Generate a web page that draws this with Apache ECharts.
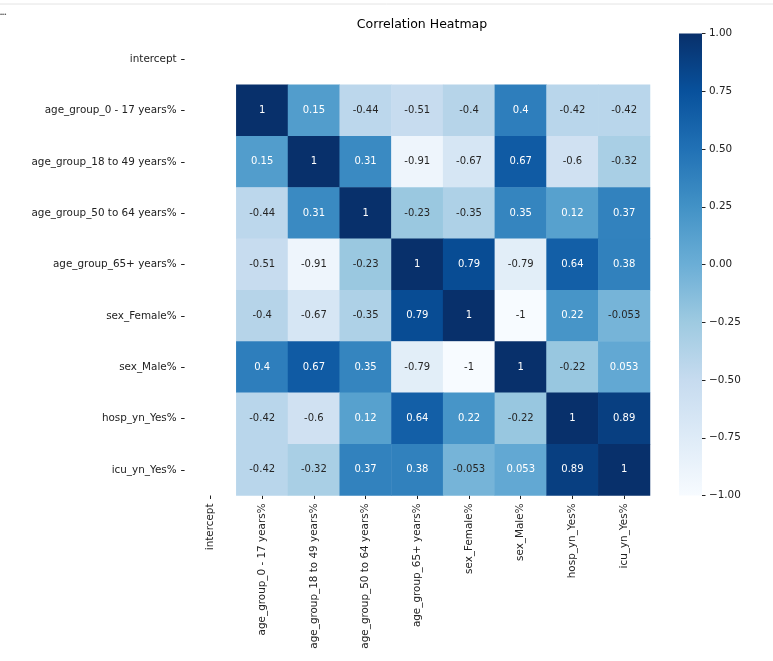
<!DOCTYPE html>
<html>
<head>
<meta charset="utf-8">
<script src="https://cdn.jsdelivr.net/npm/echarts@6/dist/echarts.min.js"></script>
<style>
  html, body { margin: 0; padding: 0; background: #fff; }
  #main { width: 773px; height: 661px; }
</style>
</head>
<body>
<div id="main"></div>
<script>
// variables of the correlation matrix (intercept has no values)
var labels = ['intercept', 'age_group_0 - 17 years%', 'age_group_18 to 49 years%', 'age_group_50 to 64 years%',
  'age_group_65+ years%', 'sex_Female%', 'sex_Male%', 'hosp_yn_Yes%', 'icu_yn_Yes%'];

// rows of the matrix, without the intercept row / column
var rowAge0 = [1, 0.15, -0.44, -0.51, -0.4, 0.4, -0.42, -0.42];
var rowAge18 = [0.15, 1, 0.31, -0.91, -0.67, 0.67, -0.6, -0.32];
var rowAge50 = [-0.44, 0.31, 1, -0.23, -0.35, 0.35, 0.12, 0.37];
var rowAge65 = [-0.51, -0.91, -0.23, 1, 0.79, -0.79, 0.64, 0.38];
var rowFemale = [-0.4, -0.67, -0.35, 0.79, 1, -1, 0.22, -0.053];
var rowMale = [0.4, 0.67, 0.35, -0.79, -1, 1, -0.22, 0.053];
var rowHosp = [-0.42, -0.6, 0.12, 0.64, 0.22, -0.22, 1, 0.89];
var rowIcu = [-0.42, -0.32, 0.37, 0.38, -0.053, 0.053, 0.89, 1];
var matrix = [rowAge0, rowAge18, rowAge50, rowAge65, rowFemale, rowMale, rowHosp, rowIcu];

var cbarTicks = [-1, -0.75, -0.5, -0.25, 0, 0.25, 0.5, 0.75, 1];

// matplotlib "Blues"
var blues = ['#f7fbff', '#deebf7', '#c6dbef', '#9ecae1', '#6baed6', '#4292c6', '#2171b5', '#08519c', '#08306b'];
var font = 'DejaVu Sans';
var ink = '#222';

var cells = [];
matrix.forEach(function (row, i) {
  row.forEach(function (v, j) {
    cells.push({
      value: [j + 1, i + 1, v],
      label: { color: v > -0.05 ? '#ffffff' : '#262626' } // light text on dark cells
    });
  });
});

// hidden axis line, but keep the little tick marks
var hiddenLine = { show: true, onZero: false, lineStyle: { color: ink, opacity: 0 } };
var ticks = { show: true, inside: false, length: 3.5, lineStyle: { color: ink, width: 1, opacity: 1 } };

var chart = echarts.init(document.getElementById('main'));
var option = {
  backgroundColor: '#fff',
  animation: false,
  title: {
    text: 'Correlation Heatmap',
    left: 417, top: 13, textAlign: 'center',
    textStyle: { fontFamily: font, fontSize: 12.5, fontWeight: 'normal', color: '#000' }
  },
  graphic: [
    { type: 'line', shape: { x1: 0, y1: 4, x2: 773, y2: 4 }, style: { stroke: '#e4e4e4', lineWidth: 1 } },
    { type: 'text', left: 0, top: 11, style: { text: '•••', fill: '#555', font: '6px sans-serif' } }
  ],
  grid: [
    { left: 184.6, top: 33.5, width: 465.4, height: 462 },
    { left: 679, top: 33.5, width: 23, height: 462 }
  ],
  xAxis: [{
    type: 'category', data: labels, gridIndex: 0,
    axisLine: hiddenLine,
    axisTick: Object.assign({ alignWithLabel: true, interval: 0 }, ticks),
    axisLabel: { rotate: 90, margin: 8, fontFamily: font, fontSize: 10.4, color: ink, interval: 0 },
    splitLine: { show: false }
  }, {
    type: 'value', min: 0, max: 1, gridIndex: 1, show: false
  }],
  yAxis: [{
    type: 'category', data: labels, inverse: true, gridIndex: 0,
    axisLine: hiddenLine,
    axisTick: Object.assign({ alignWithLabel: true, interval: 0 }, ticks),
    axisLabel: { margin: 8, fontFamily: font, fontSize: 10.4, color: ink, interval: 0 },
    splitLine: { show: false }
  }, {
    type: 'value', min: -1, max: 1, interval: 0.25, gridIndex: 1, position: 'right',
    axisLine: hiddenLine,
    axisTick: ticks,
    axisLabel: {
      margin: 7, fontFamily: font, fontSize: 10.4, color: ink,
      formatter: function (v) { return v.toFixed(2).replace('-', '\u2212'); }
    },
    splitLine: { show: false }
  }],
  visualMap: {
    show: false, type: 'continuous', min: -1, max: 1, dimension: 2, seriesIndex: 0,
    inRange: { color: blues }
  },
  series: [{
    type: 'heatmap',
    xAxisIndex: 0, yAxisIndex: 0,
    data: cells,
    label: {
      show: true, fontFamily: font, fontSize: 10,
      formatter: function (p) { return String(p.value[2]); }
    },
    itemStyle: { borderWidth: 0 },
    emphasis: { disabled: true }
  }, {
    // colorbar
    type: 'custom',
    xAxisIndex: 1, yAxisIndex: 1,
    data: [[0, cbarTicks[cbarTicks.length - 1], 1, cbarTicks[0]]],
    renderItem: function (params, api) {
      var p1 = api.coord([api.value(0), api.value(1)]);
      var p2 = api.coord([api.value(2), api.value(3)]);
      var stops = blues.map(function (c, k) { return { offset: k / (blues.length - 1), color: c }; });
      return {
        type: 'rect',
        shape: { x: p1[0], y: p1[1], width: p2[0] - p1[0], height: p2[1] - p1[1] },
        style: { fill: new echarts.graphic.LinearGradient(0, 1, 0, 0, stops) }
      };
    },
    silent: true
  }]
};
chart.setOption(option);
</script>
</body>
</html>
